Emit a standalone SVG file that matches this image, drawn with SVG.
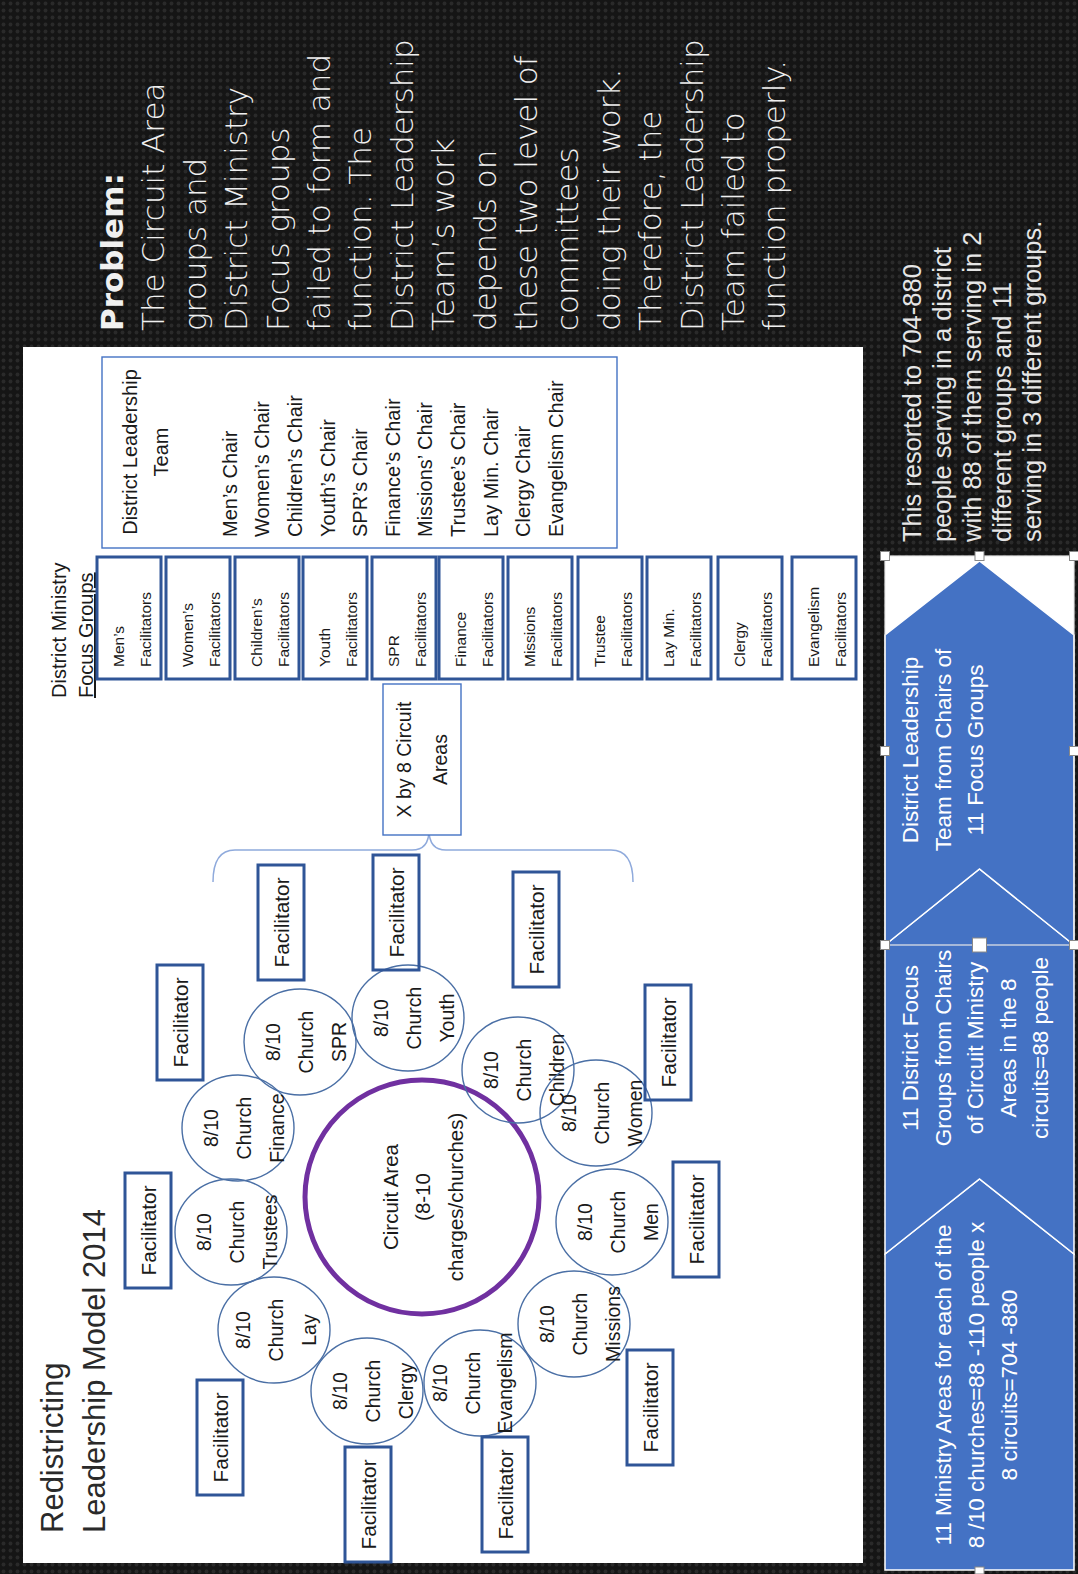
<svg xmlns="http://www.w3.org/2000/svg" width="1078" height="1574" viewBox="0 0 1078 1574">
<defs>
<pattern id="dots" width="7" height="7" patternUnits="userSpaceOnUse"><rect width="7" height="7" fill="#151515"/><circle cx="3.5" cy="3.5" r="1.9" fill="#2a2a2a"/></pattern>
<style>
text{font-family:"Liberation Sans",Arial,sans-serif;fill:#1a1a1a}
.title{font-size:31px;fill:#2a2a2a}
.fac rect{fill:none;stroke:#2f5597;stroke-width:3}
.fac text{font-size:20.8px;text-anchor:middle}
.ch ellipse{fill:none;stroke:#4a6fa5;stroke-width:1.4}
.ch text{font-size:19.5px;text-anchor:middle}
.fg rect{fill:#fff;stroke:#2f5597;stroke-width:3}
.fg text{font-size:15.5px}
.thin{fill:#fff;stroke:#4472c4;stroke-width:1.4}
.mid{text-anchor:middle}
.chev path{fill:#4472c4;stroke:#fff;stroke-width:1.5}
.wt{fill:#fff;font-size:22.5px;text-anchor:middle}
.prob text{font-family:"DejaVu Sans",sans-serif;fill:#f0f0f0;font-size:31px;font-weight:200}
.prob .b{font-weight:bold}
.res text{fill:#e6e6e6;font-size:25.5px}
.hdl{fill:#fff;stroke:#888;stroke-width:1}
</style>
</defs>
<rect width="1078" height="1574" fill="url(#dots)"/>
<g transform="translate(0,1574) rotate(-90)">
<rect id="panel" x="11" y="23" width="1216" height="840" fill="#fff"/>

<g id="title" class="title">
<text x="41" y="63" class="title">Redistricting</text>
<text x="41" y="105" class="title">Leadership Model 2014</text>
</g>

<g id="connectors">
<path d="M692,213 Q724,213 724,235 L724,412 Q724,429 744,429 L757,429 M744,429 Q724,429 724,446 L724,611 Q724,633 692,633" fill="none" stroke="#8faadc" stroke-width="1.5"/>
</g>

<g id="circuit-area">
<circle cx="377" cy="422" r="117" fill="none" stroke="#7030a0" stroke-width="5"/>
<text x="377" y="398" class="mid" font-size="20.5">Circuit Area</text>
<text x="377" y="430" class="mid" font-size="20.5">(8-10</text>
<text x="377" y="463" class="mid" font-size="20.5">charges/churches)</text>
</g>

<g id="church-trustees" class="ch"><ellipse cx="342" cy="231" rx="53" ry="56"/><text x="342" y="211">8/10</text><text x="342" y="244">Church</text><text x="342" y="277">Trustees</text></g>
<g id="church-finance" class="ch"><ellipse cx="446" cy="238" rx="53" ry="56"/><text x="446" y="218">8/10</text><text x="446" y="251">Church</text><text x="446" y="284">Finance</text></g>
<g id="church-spr" class="ch"><ellipse cx="532" cy="300" rx="53" ry="56"/><text x="532" y="280">8/10</text><text x="532" y="313">Church</text><text x="532" y="346">SPR</text></g>
<g id="church-youth" class="ch"><ellipse cx="556" cy="408" rx="53" ry="56"/><text x="556" y="388">8/10</text><text x="556" y="421">Church</text><text x="556" y="454">Youth</text></g>
<g id="church-children" class="ch"><ellipse cx="504" cy="518" rx="53" ry="56"/><text x="504" y="498">8/10</text><text x="504" y="531">Church</text><text x="504" y="564">Children</text></g>
<g id="church-women" class="ch"><ellipse cx="461" cy="596" rx="53" ry="56"/><text x="461" y="576">8/10</text><text x="461" y="609">Church</text><text x="461" y="642">Women</text></g>
<g id="church-men" class="ch"><ellipse cx="352" cy="612" rx="53" ry="56"/><text x="352" y="592">8/10</text><text x="352" y="625">Church</text><text x="352" y="658">Men</text></g>
<g id="church-missions" class="ch"><ellipse cx="250" cy="574" rx="53" ry="56"/><text x="250" y="554">8/10</text><text x="250" y="587">Church</text><text x="250" y="620">Missions</text></g>
<g id="church-evangelism" class="ch"><ellipse cx="191" cy="480" rx="53" ry="56"/><text x="191" y="447">8/10</text><text x="191" y="480">Church</text><text x="191" y="512">Evangelism</text></g>
<g id="church-clergy" class="ch"><ellipse cx="183" cy="367" rx="53" ry="56"/><text x="183" y="347">8/10</text><text x="183" y="380">Church</text><text x="183" y="413">Clergy</text></g>
<g id="church-lay" class="ch"><ellipse cx="244" cy="274" rx="53" ry="56"/><text x="244" y="250">8/10</text><text x="244" y="283">Church</text><text x="244" y="316">Lay</text></g>

<g id="fac-1" class="fac"><rect x="286" y="125" width="115" height="46"/><text x="343.5" y="156">Facilitator</text></g>
<g id="fac-2" class="fac"><rect x="79" y="197" width="115" height="46"/><text x="136.5" y="228">Facilitator</text></g>
<g id="fac-3" class="fac"><rect x="12" y="345" width="115" height="46"/><text x="69.5" y="376">Facilitator</text></g>
<g id="fac-4" class="fac"><rect x="22" y="482" width="115" height="46"/><text x="79.5" y="513">Facilitator</text></g>
<g id="fac-5" class="fac"><rect x="109" y="627" width="115" height="46"/><text x="166.5" y="658">Facilitator</text></g>
<g id="fac-6" class="fac"><rect x="297" y="673" width="115" height="46"/><text x="354.5" y="704">Facilitator</text></g>
<g id="fac-7" class="fac"><rect x="474" y="645" width="115" height="46"/><text x="531.5" y="676">Facilitator</text></g>
<g id="fac-8" class="fac"><rect x="587" y="513" width="115" height="46"/><text x="644.5" y="544">Facilitator</text></g>
<g id="fac-9" class="fac"><rect x="604" y="373" width="115" height="46"/><text x="661.5" y="404">Facilitator</text></g>
<g id="fac-10" class="fac"><rect x="594" y="258" width="115" height="46"/><text x="651.5" y="289">Facilitator</text></g>
<g id="fac-11" class="fac"><rect x="494" y="157" width="115" height="46"/><text x="551.5" y="188">Facilitator</text></g>

<g id="x-circuit-areas">
<rect class="thin" x="739" y="383" width="151" height="78"/>
<text x="814.5" y="411" class="mid" font-size="19.5">X by 8 Circuit</text>
<text x="814.5" y="447" class="mid" font-size="19.5">Areas</text>
</g>

<g id="focus-label">
<text x="876" y="66" font-size="20">District Ministry</text>
<text x="876" y="93" font-size="20" text-decoration="underline">Focus Groups</text>
</g>

<g id="fg-men" class="fg"><rect x="895" y="97" width="122" height="64"/><text x="907" y="124">Men’s</text><text x="907" y="151">Facilitators</text></g>
<g id="fg-women" class="fg"><rect x="895" y="166" width="122" height="64"/><text x="907" y="193">Women’s</text><text x="907" y="220">Facilitators</text></g>
<g id="fg-children" class="fg"><rect x="895" y="235" width="122" height="64"/><text x="907" y="262">Children’s</text><text x="907" y="289">Facilitators</text></g>
<g id="fg-youth" class="fg"><rect x="895" y="303" width="122" height="64"/><text x="907" y="330">Youth</text><text x="907" y="357">Facilitators</text></g>
<g id="fg-spr" class="fg"><rect x="895" y="372" width="122" height="64"/><text x="907" y="399">SPR</text><text x="907" y="426">Facilitators</text></g>
<g id="fg-finance" class="fg"><rect x="895" y="439" width="122" height="64"/><text x="907" y="466">Finance</text><text x="907" y="493">Facilitators</text></g>
<g id="fg-missions" class="fg"><rect x="895" y="508" width="122" height="64"/><text x="907" y="535">Missions</text><text x="907" y="562">Facilitators</text></g>
<g id="fg-trustee" class="fg"><rect x="895" y="578" width="122" height="64"/><text x="907" y="605">Trustee</text><text x="907" y="632">Facilitators</text></g>
<g id="fg-laymin" class="fg"><rect x="895" y="647" width="122" height="64"/><text x="907" y="674">Lay Min.</text><text x="907" y="701">Facilitators</text></g>
<g id="fg-clergy" class="fg"><rect x="895" y="718" width="122" height="64"/><text x="907" y="745">Clergy</text><text x="907" y="772">Facilitators</text></g>
<g id="fg-evangelism" class="fg"><rect x="895" y="792" width="122" height="64"/><text x="907" y="819">Evangelism</text><text x="907" y="846">Facilitators</text></g>

<g id="dlt" font-size="20">
<rect class="thin" x="1026" y="102" width="191" height="515"/>
<text x="1122" y="136.5" class="mid">District Leadership</text>
<text x="1122" y="167.5" class="mid">Team</text>
<text x="1037" y="236.5">Men’s Chair</text>
<text x="1037" y="269.2">Women’s Chair</text>
<text x="1037" y="301.8">Children’s Chair</text>
<text x="1037" y="334.5">Youth’s Chair</text>
<text x="1037" y="367.1">SPR’s Chair</text>
<text x="1037" y="399.8">Finance’s Chair</text>
<text x="1037" y="432.4">Missions’ Chair</text>
<text x="1037" y="465.1">Trustee’s Chair</text>
<text x="1037" y="497.7">Lay Min. Chair</text>
<text x="1037" y="530.4">Clergy Chair</text>
<text x="1037" y="563">Evangelism Chair</text>
</g>

<g id="chevrons" class="chev">
<rect x="939" y="885" width="79" height="189" fill="#fff"/>
<path d="M4,885 L320,885 L395,979.5 L320,1074 L4,1074 Z"/>
<path d="M320,885 L629,885 L705,979.5 L629,1074 L320,1074 L395,979.5 Z"/>
<path d="M629,885 L939,885 L1013,979.5 L939,1074 L629,1074 L705,979.5 Z"/>
<rect x="629" y="885" width="389" height="189" fill="none" stroke="#e8e8e8" stroke-width="1.2"/>
<rect class="hdl" x="1013.5" y="880.5" width="9" height="9"/>
<rect class="hdl" x="1013.5" y="975" width="9" height="9"/>
<rect class="hdl" x="1013.5" y="1069.5" width="9" height="9"/>
<rect class="hdl" x="818.5" y="880.5" width="9" height="9"/>
<rect class="hdl" x="818.5" y="1069.5" width="9" height="9"/>
<rect class="hdl" x="624.5" y="880.5" width="9" height="9"/>
<rect class="hdl" x="622" y="972.5" width="14" height="14"/>
<rect class="hdl" x="624.5" y="1069.5" width="9" height="9"/>
<rect class="hdl" x="0" y="975" width="7" height="9"/>
<text class="wt" x="189" y="951">11 Ministry Areas for each of the</text>
<text class="wt" x="189" y="984">8 /10 churches=88 -110 people x</text>
<text class="wt" x="189" y="1017">8 circuits=704 -880</text>
<text class="wt" x="526" y="918">11 District Focus</text>
<text class="wt" x="526" y="950.5">Groups from Chairs</text>
<text class="wt" x="526" y="983">of Circuit Ministry</text>
<text class="wt" x="526" y="1015.5">Areas in the 8</text>
<text class="wt" x="526" y="1048">circuits=88 people</text>
<text class="wt" x="824" y="918">District Leadership</text>
<text class="wt" x="824" y="950.5">Team from Chairs of</text>
<text class="wt" x="824" y="983">11 Focus Groups</text>
</g>

<g id="problem" class="prob">
<text x="1243" y="123" class="b">Problem:</text>
<text x="1243" y="164.4">The Circuit Area</text>
<text x="1243" y="205.8">groups and</text>
<text x="1243" y="247.2">District Ministry</text>
<text x="1243" y="288.6">Focus groups</text>
<text x="1243" y="330">failed to form and</text>
<text x="1243" y="371.4">function. The</text>
<text x="1243" y="412.8">District Leadership</text>
<text x="1243" y="454.2">Team’s work</text>
<text x="1243" y="495.6">depends on</text>
<text x="1243" y="537">these two level of</text>
<text x="1243" y="578.4">committees</text>
<text x="1243" y="619.8">doing their work.</text>
<text x="1243" y="661.2">Therefore, the</text>
<text x="1243" y="702.6">District Leadership</text>
<text x="1243" y="744">Team failed to</text>
<text x="1243" y="785.4">function properly.</text>
</g>

<g id="result" class="res">
<text x="1032" y="921">This resorted to 704-880</text>
<text x="1032" y="951">people serving in a district</text>
<text x="1032" y="981">with 88 of them serving in 2</text>
<text x="1032" y="1011">different groups and 11</text>
<text x="1032" y="1041">serving in 3 different groups.</text>
</g>
</g>
</svg>
